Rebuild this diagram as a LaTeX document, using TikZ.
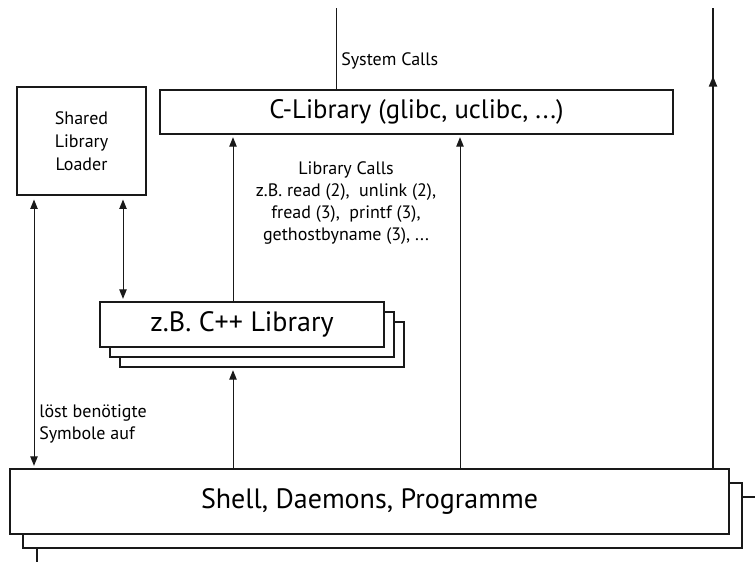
\documentclass[tikz,border=0pt]{standalone}
\usepackage{fontspec}
\setmainfont{PT Sans}
\usetikzlibrary{positioning,arrows.meta}
\tikzset{
	box/.style={draw=black!90,fill=white,line width=0.8pt,inner sep=0pt},
	conn/.style={draw=black!90,line width=0.75pt,-{Triangle[length=7pt,width=5.5pt]},shorten >=2pt},
	dconn/.style={conn,{Triangle[length=7pt,width=5.5pt]}-{Triangle[length=7pt,width=5.5pt]},shorten <=3pt,shorten >=2pt},
	small/.style={font=\fontsize{13.5}{16.5}\selectfont,inner sep=0pt},
	big/.style={font=\fontsize{21}{24}\selectfont},
}
\begin{document}
\begin{tikzpicture}[x=0.75pt,y=-0.75pt]
		\useasboundingbox (0,0) rectangle (755,561);
		\clip (0,0) rectangle (755,561);
		\fill[white] (0,0) rectangle (755,561);
		\coordinate (syscall) at (336,8);
		\coordinate (rtop) at (713,8);
		\coordinate (rtip) at (713,76);
		\coordinate (colA) at (233,0);
		\coordinate (colB) at (460,0);
		\coordinate (colC) at (123,0);
		\coordinate (colD) at (34,0);
		\node[box,minimum width=557.25pt,minimum height=62.25pt] (shellc) at (408.5,538.5) {};
		\node[box,minimum width=539.25pt,minimum height=48.75pt] (shellb) at (382.5,515.5) {};
		\node[box,big,minimum width=539.25pt,minimum height=48.75pt] (shell) at (369.5,501.5) {Shell, Daemons, Programme};
		\node[box,small,align=center,font=\fontsize{13.5}{17.25}\selectfont,minimum width=96.75pt,minimum height=81pt] (loader) at (81.5,141) {Shared\\Library\\Loader};
		\node[box,big,font=\fontsize{20}{24}\selectfont,minimum width=384.75pt,minimum height=33pt] (clib) at (416.5,112) {C-Library (glibc, uclibc, ...)};
		\node[box,minimum width=213pt,minimum height=33.75pt] (cppc) at (262,344.5) {};
		\node[box,minimum width=213pt,minimum height=33.75pt] (cppb) at (252,334.5) {};
		\node[box,big,minimum width=213pt,minimum height=33.75pt] (cpp) at (242,324.5) {z.B. C++ Library};
		\draw[black!90,line width=0.75pt] (clib.north -| syscall) -- (syscall);
		\node[small,anchor=west] (syslabel) at (341,61) {System Calls};
		\draw[black!90,line width=1.6pt] (shell.north -| rtop) -- (rtop);
		\draw[black!90,line width=1.6pt,-{Triangle[length=8pt,width=6pt]}] (shell.north -| rtop) -- (rtip);
		\draw[conn] (cpp.north -| colA) -- (clib.south -| colA);
		\draw[conn] (shell.north -| colA) -- (cppc.south -| colA);
		\draw[conn] (shell.north -| colB) -- (clib.south -| colB);
		\draw[dconn] (loader.south -| colC) -- (cpp.north -| colC);
		\draw[dconn] (loader.south -| colD) -- (shell.north -| colD);
		\node[small,align=center] (libcalls) at (346,203) {Library Calls\\z.B. read (2),\ \ unlink (2),\\fread (3),\ \ printf (3),\\gethostbyname (3), ...};
		\node[small,align=left,anchor=west] (resolve) at (39,424) {löst benötigte\\Symbole auf};
	\end{tikzpicture}
\end{document}
